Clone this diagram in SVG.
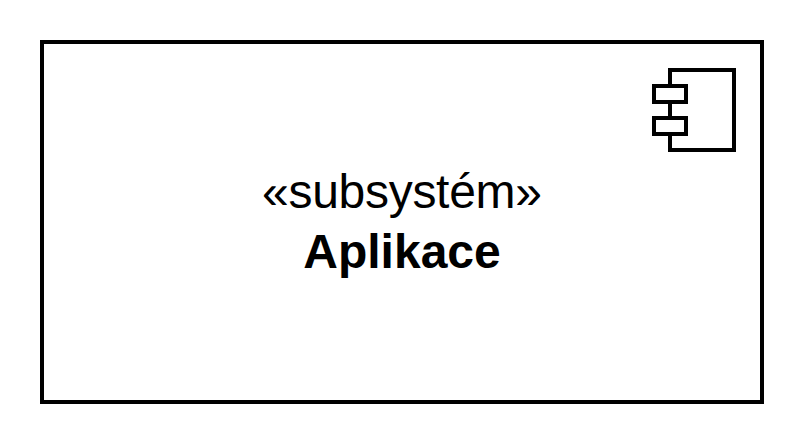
<svg xmlns="http://www.w3.org/2000/svg" width="804" height="444" viewBox="0 0 804 444">
<style>
.s{fill:#fff;stroke:#000;stroke-width:4}
text{font-family:"Liberation Sans",Arial,sans-serif;font-size:48px;text-anchor:middle;fill:#000}
</style>
<rect width="804" height="444" fill="#fff"/>
<g id="subsystem">
<rect class="s" x="42" y="42" width="720" height="360"/>
<rect class="s" x="670" y="70" width="64" height="80"/>
<rect class="s" x="654" y="86" width="32" height="16"/>
<rect class="s" x="654" y="118" width="32" height="16"/>
<text x="402" y="208" textLength="280">«subsystém»</text>
<text x="402" y="268" font-weight="bold">Aplikace</text>
</g>
</svg>
